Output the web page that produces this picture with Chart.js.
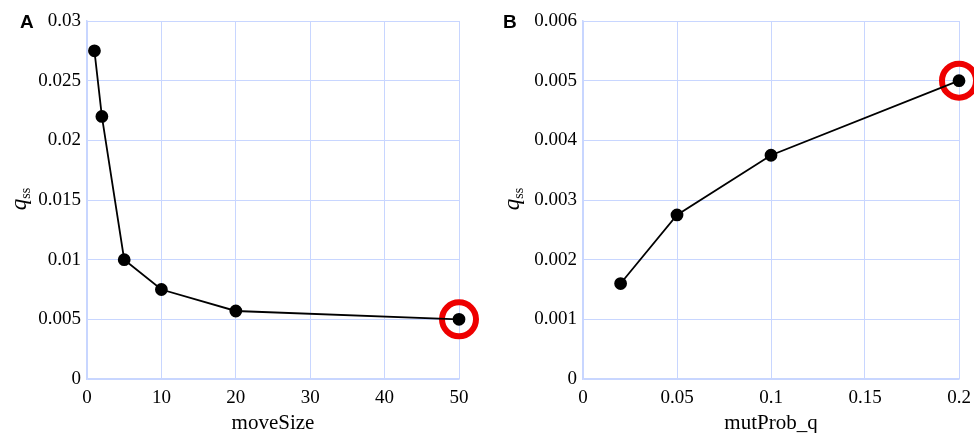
<!DOCTYPE html>
<html>
<head>
<meta charset="utf-8">
<script src="https://cdn.jsdelivr.net/npm/chart.js@4.4.1/dist/chart.umd.min.js"></script>
<style>
  body { margin: 0; background: #fff; }
  #wrap { position: relative; width: 974px; height: 433px; overflow: hidden; }
  .panel { position: absolute; top: -2px; height: 435px; }
  .letter { position: absolute; font-family: "Liberation Sans", Arial, sans-serif; font-weight: bold; font-size: 19px; color: #000; }
  .ytitle { position: absolute; font-family: "Liberation Serif", "Times New Roman", serif; font-size: 23px; color: #000;
            transform: translate(-50%, -50%) rotate(-90deg); white-space: nowrap; }
  .ytitle sub { font-size: 14px; font-style: normal; vertical-align: -4px; }
</style>
</head>
<body>
<div id="wrap">
  <div class="panel" style="left:0;width:482px"><canvas id="chartA"></canvas></div>
  <div class="panel" style="left:487px;width:495px"><canvas id="chartB"></canvas></div>
  <div class="letter" style="left:20px;top:11px">A</div>
  <div class="letter" style="left:503px;top:11px">B</div>
  <div class="ytitle" style="left:20px;top:199px"><i>q</i><sub>ss</sub></div>
  <div class="ytitle" style="left:513px;top:199px"><i>q</i><sub>ss</sub></div>
</div>
<script>
// panel A: qss vs moveSize
var moveSize = [1, 2, 5, 10, 20, 50];
var qssA = [0.0275, 0.022, 0.010, 0.0075, 0.0057, 0.005];
// panel B: qss vs mutProb_q
var mutProb = [0.02, 0.05, 0.1, 0.2];
var qssB = [0.0016, 0.00275, 0.00375, 0.005];

var gridBlue = 'rgb(200, 214, 255)';
var serif = '"Liberation Serif", "Times New Roman", serif';

function pts(xs, ys) {
    return xs.map(function(x, i) { return { x: x, y: ys[i] }; });
}

function fmt(v) {
    return String(parseFloat(v.toFixed(4)));
}

function makeChart(id, xs, ys, xTitle, xMax, xStep, yMax, yStep, yWidth, padRight) {
    var last = xs.length - 1;
    return new Chart(document.getElementById(id), {
        type: 'line',
        data: {
            datasets: [{
                data: pts(xs, ys),
                borderColor: '#000',
                borderWidth: 1.8,
                pointBackgroundColor: '#000',
                pointBorderColor: '#000',
                pointRadius: 5.5,
                fill: false,
                tension: 0,
                order: 1
            }, {
                // red ring around the chosen value
                data: [{ x: xs[last], y: ys[last] }],
                showLine: false,
                pointRadius: 17,
                pointBorderWidth: 6,
                pointBorderColor: 'rgb(238, 0, 0)',
                pointBackgroundColor: 'rgba(0,0,0,0)',
                order: 2
            }]
        },
        options: {
            responsive: false,
            animation: false,
            clip: false,
            layout: { padding: { top: 19, right: padRight, left: 0, bottom: 0 } },
            plugins: { legend: { display: false }, tooltip: { enabled: false } },
            scales: {
                x: {
                    type: 'linear',
                    min: 0, max: xMax,
                    grid: { color: gridBlue, drawTicks: false },
                    border: { color: gridBlue, width: 1.5 },
                    ticks: { stepSize: xStep, color: '#000', padding: 8, font: { family: serif, size: 19 }, callback: fmt, maxRotation: 0 },
                    title: { display: true, text: xTitle, color: '#000', font: { family: serif, size: 21 }, padding: { top: 2, bottom: -3 } },
                    afterFit: function(s) { s.height = 54; }
                },
                y: {
                    min: 0, max: yMax,
                    grid: { color: gridBlue, drawTicks: false },
                    border: { color: gridBlue, width: 1.5 },
                    ticks: { stepSize: yStep, color: '#000', padding: 6, font: { family: serif, size: 19 }, callback: fmt },
                    afterFit: function(s) { s.width = yWidth; }
                }
            }
        }
    });
}

document.getElementById('chartA').width = 482;
document.getElementById('chartA').height = 435;
document.getElementById('chartB').width = 495;
document.getElementById('chartB').height = 435;

makeChart('chartA', moveSize, qssA, 'moveSize', 50, 10, 0.03, 0.005, 87, 21);
makeChart('chartB', mutProb, qssB, 'mutProb_q', 0.2, 0.05, 0.006, 0.001, 96, 9);
</script>
</body>
</html>
